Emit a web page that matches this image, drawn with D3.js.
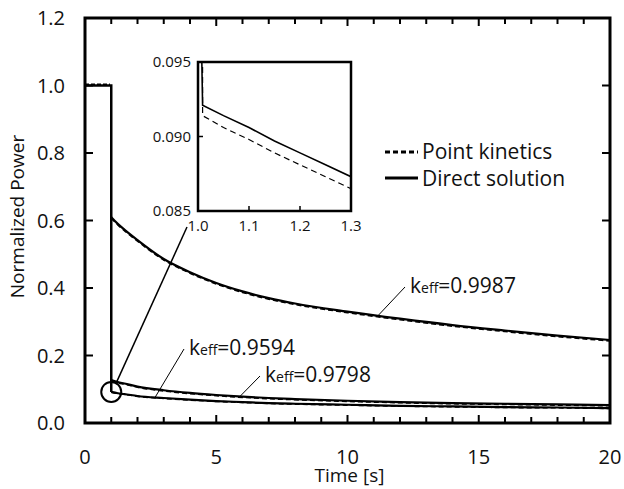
<!DOCTYPE html>
<meta charset="utf-8">
<head>
<style>
body { margin: 0; background: white; }
text { font-family: "Open Sans", sans-serif; fill: #111; }
.frame { fill: none; stroke: #000; stroke-width: 3; }
.curve { fill: none; stroke: #000; }
</style>
</head>
<body>
<script src="https://cdn.jsdelivr.net/npm/d3@7"></script>
<script>

// main plot data (time in s, normalized power)
var tMain = [1.0, 1.25, 1.5, 2, 3, 4, 5, 6, 7, 8, 10, 12, 14, 16, 18, 20];
var direct9987 = [0.610, 0.590, 0.573, 0.542, 0.486, 0.447, 0.415, 0.390, 0.370, 0.354, 0.330, 0.309, 0.290, 0.274, 0.259, 0.246];
var pk9987     = [0.607, 0.587, 0.570, 0.539, 0.483, 0.444, 0.412, 0.387, 0.367, 0.351, 0.327, 0.306, 0.287, 0.271, 0.256, 0.243];
var direct9798 = [0.127, 0.121, 0.117, 0.108, 0.097, 0.089, 0.083, 0.078, 0.074, 0.071, 0.066, 0.062, 0.059, 0.057, 0.055, 0.053];
var pk9798     = [0.125, 0.119, 0.115, 0.106, 0.095, 0.087, 0.081, 0.076, 0.072, 0.069, 0.064, 0.060, 0.057, 0.055, 0.053, 0.051];
var direct9594 = [0.0921, 0.0881, 0.0858, 0.080, 0.074, 0.069, 0.065, 0.062, 0.059, 0.057, 0.054, 0.051, 0.049, 0.047, 0.046, 0.044];
var pk9594     = [0.0914, 0.0873, 0.0850, 0.079, 0.073, 0.068, 0.064, 0.061, 0.058, 0.056, 0.053, 0.050, 0.048, 0.046, 0.045, 0.043];

// inset (zoom near t = 1 s, keff = 0.9594)
var tInset = [1.009, 1.05, 1.1, 1.15, 1.2, 1.25, 1.3];
var directInset = [0.0921, 0.0914, 0.0906, 0.0897, 0.0889, 0.0881, 0.0873];
var pkInset     = [0.0914, 0.0906, 0.0898, 0.0889, 0.0881, 0.0873, 0.0865];

var xTicks = [0, 5, 10, 15, 20];
var yTicks = [0.0, 0.2, 0.4, 0.6, 0.8, 1.0, 1.2];
var xTicksInset = [1.0, 1.1, 1.2, 1.3];
var yTicksInset = [0.085, 0.090, 0.095];

var labels = [
    {keff: "0.9987", t: 11.16, series: direct9987, tx: 410, ty: 293},
    {keff: "0.9594", t: 2.67, series: direct9594, tx: 189, ty: 355},
    {keff: "0.9798", t: 5.9, series: direct9798, tx: 265, ty: 382}
];

var W = 624, H = 489;
var margin = {top: 18, right: 14, bottom: 66, left: 85},
    width = W - margin.left - margin.right,
    height = H - margin.top - margin.bottom;

var svg = d3.select("body").append("svg")
    .attr("width", W)
    .attr("height", H);

var g = svg.append("g")
    .attr("transform", "translate(" + margin.left + "," + margin.top + ")");

var x = d3.scaleLinear().domain([0, 20]).range([0, width]);
var y = d3.scaleLinear().domain([0, 1.2]).range([height, 0]);

// axes with inward ticks
var minorX = d3.range(0, 21, 1);
function tickLen(d) { return d % 5 == 0 ? 8 : 6; }

g.selectAll(".xb").data(minorX).enter().append("line")
    .attr("x1", x).attr("x2", x)
    .attr("y1", height).attr("y2", function(d) { return height - tickLen(d); })
    .attr("stroke", "#000").attr("stroke-width", 2);
g.selectAll(".xt").data(minorX).enter().append("line")
    .attr("x1", x).attr("x2", x)
    .attr("y1", 0).attr("y2", function(d) { return tickLen(d); })
    .attr("stroke", "#000").attr("stroke-width", 2);
g.selectAll(".yl").data(yTicks).enter().append("line")
    .attr("x1", 0).attr("x2", 8)
    .attr("y1", y).attr("y2", y)
    .attr("stroke", "#000").attr("stroke-width", 2);
g.selectAll(".yr").data(yTicks).enter().append("line")
    .attr("x1", width).attr("x2", width - 8)
    .attr("y1", y).attr("y2", y)
    .attr("stroke", "#000").attr("stroke-width", 2);

g.selectAll(".xlab").data(xTicks).enter().append("text")
    .attr("x", x).attr("y", height + 41)
    .attr("text-anchor", "middle")
    .style("font-size", "20px")
    .text(function(d) { return d; });
g.selectAll(".ylab").data(yTicks).enter().append("text")
    .attr("x", -20).attr("y", y).attr("dy", "0.36em")
    .attr("text-anchor", "end")
    .style("font-size", "20px")
    .text(function(d) { return d.toFixed(1); });

g.append("text")
    .attr("x", width / 2 + 2).attr("y", height + 59)
    .attr("text-anchor", "middle")
    .style("font-size", "19px")
    .text("Time [s]");

svg.append("text")
    .attr("transform", "translate(24," + (margin.top + height / 2 - 4) + ") rotate(-90)")
    .attr("text-anchor", "middle")
    .style("font-size", "19px")
    .text("Normalized Power");

// curves
var line = d3.line()
    .x(function(d) { return x(d[0]); })
    .y(function(d) { return y(d[1]); })
    .curve(d3.curveMonotoneX);
var stepLine = d3.line()
    .x(function(d) { return x(d[0]); })
    .y(function(d) { return y(d[1]); });

var series = [
    {direct: direct9987, pk: pk9987},
    {direct: direct9798, pk: pk9798},
    {direct: direct9594, pk: pk9594}
];

series.forEach(function(s) {
    g.append("path").attr("class", "curve")
        .attr("d", line(tMain.map(function(t, i) { return [t, s.pk[i]]; })))
        .attr("stroke-width", 1.6).attr("stroke-dasharray", "5,3");
    g.append("path").attr("class", "curve")
        .attr("d", line(tMain.map(function(t, i) { return [t, s.direct[i]]; })))
        .attr("stroke-width", 2.2);
});
// initial level and drop at t = 1 s
g.append("path").attr("class", "curve")
    .attr("d", stepLine([[0, 1.0], [1, 1.0], [1, direct9594[0]]]))
    .attr("stroke-width", 2.5);
g.append("path").attr("class", "curve")
    .attr("d", stepLine([[0, 1.004], [0.95, 1.004]]))
    .attr("stroke-width", 1.5).attr("stroke-dasharray", "4,2");

// frame
g.append("rect").attr("class", "frame")
    .attr("x", 0).attr("y", 0).attr("width", width).attr("height", height);

// keff labels with pointer lines
labels.forEach(function(l) {
    var i = d3.bisectLeft(tMain, l.t);
    var t0 = tMain[i - 1], t1 = tMain[i];
    var v = l.series[i - 1] + (l.series[i] - l.series[i - 1]) * (l.t - t0) / (t1 - t0);
    svg.append("line")
        .attr("x1", margin.left + x(l.t)).attr("y1", margin.top + y(v))
        .attr("x2", l.tx - 5).attr("y2", l.ty - 6)
        .attr("stroke", "#000").attr("stroke-width", 1);
    var tx = svg.append("text")
        .attr("x", l.tx).attr("y", l.ty)
        .style("font-size", "21px");
    tx.append("tspan").text("k");
    tx.append("tspan").style("font-size", "14px").text("eff");
    tx.append("tspan").text("=" + l.keff);
});

// legend
var legend = svg.append("g");
legend.append("line")
    .attr("x1", 385).attr("x2", 418).attr("y1", 152).attr("y2", 152)
    .attr("stroke", "#000").attr("stroke-width", 3).attr("stroke-dasharray", "5,3");
legend.append("text").attr("x", 422).attr("y", 159)
    .style("font-size", "21px").text("Point kinetics");
legend.append("line")
    .attr("x1", 385).attr("x2", 418).attr("y1", 178).attr("y2", 178)
    .attr("stroke", "#000").attr("stroke-width", 3);
legend.append("text").attr("x", 422).attr("y", 186)
    .style("font-size", "21px").text("Direct solution");

// circle marking the zoomed region
svg.append("circle")
    .attr("cx", margin.left + x(1.0)).attr("cy", margin.top + y(direct9594[0]))
    .attr("r", 10)
    .attr("fill", "none").attr("stroke", "#000").attr("stroke-width", 2);

// inset
var ix0 = 198, iy0 = 62, iw = 153, ih = 149;
var xi = d3.scaleLinear().domain([1.0, 1.3]).range([0, iw]);
var yi = d3.scaleLinear().domain([0.085, 0.095]).range([ih, 0]);

svg.append("line")
    .attr("x1", margin.left + x(1.0) + 5).attr("y1", margin.top + y(direct9594[0]) - 9)
    .attr("x2", ix0 - 11).attr("y2", iy0 + ih + 16)
    .attr("stroke", "#000").attr("stroke-width", 1.5);

var inset = svg.append("g").attr("transform", "translate(" + ix0 + "," + iy0 + ")");
inset.append("rect").attr("x", 0).attr("y", 0).attr("width", iw).attr("height", ih)
    .attr("fill", "white");

svg.append("clipPath").attr("id", "insetclip")
    .append("rect").attr("x", 0).attr("y", 0).attr("width", iw).attr("height", ih);

var insetLine = d3.line()
    .x(function(d) { return xi(d[0]); })
    .y(function(d) { return yi(d[1]); });
var curves = inset.append("g").attr("clip-path", "url(#insetclip)");
curves.append("path").attr("class", "curve")
    .attr("d", insetLine([[tInset[0], 0.096]].concat(tInset.map(function(t, i) { return [t, pkInset[i]]; }))))
    .attr("stroke-width", 1.2).attr("stroke-dasharray", "6,4");
curves.append("path").attr("class", "curve")
    .attr("d", insetLine([[tInset[0] - 0.002, 0.096]].concat(tInset.map(function(t, i) { return [t, directInset[i]]; }))))
    .attr("stroke-width", 1.6);

inset.selectAll(".ixt").data(xTicksInset).enter().append("line")
    .attr("x1", xi).attr("x2", xi).attr("y1", ih).attr("y2", ih - 5)
    .attr("stroke", "#000").attr("stroke-width", 1.5);
inset.selectAll(".iyt").data(yTicksInset).enter().append("line")
    .attr("x1", 0).attr("x2", 5).attr("y1", yi).attr("y2", yi)
    .attr("stroke", "#000").attr("stroke-width", 1.5);
inset.append("rect").attr("x", 0).attr("y", 0).attr("width", iw).attr("height", ih)
    .attr("fill", "none").attr("stroke", "#000").attr("stroke-width", 2.5);

inset.selectAll(".ixl").data(xTicksInset).enter().append("text")
    .attr("x", xi).attr("y", ih + 20)
    .attr("text-anchor", "middle")
    .style("font-size", "15px")
    .text(function(d) { return d.toFixed(1); });
inset.selectAll(".iyl").data(yTicksInset).enter().append("text")
    .attr("x", -7).attr("y", yi).attr("dy", "0.36em")
    .attr("text-anchor", "end")
    .style("font-size", "15px")
    .text(function(d) { return d.toFixed(3); });

</script>
</body>
